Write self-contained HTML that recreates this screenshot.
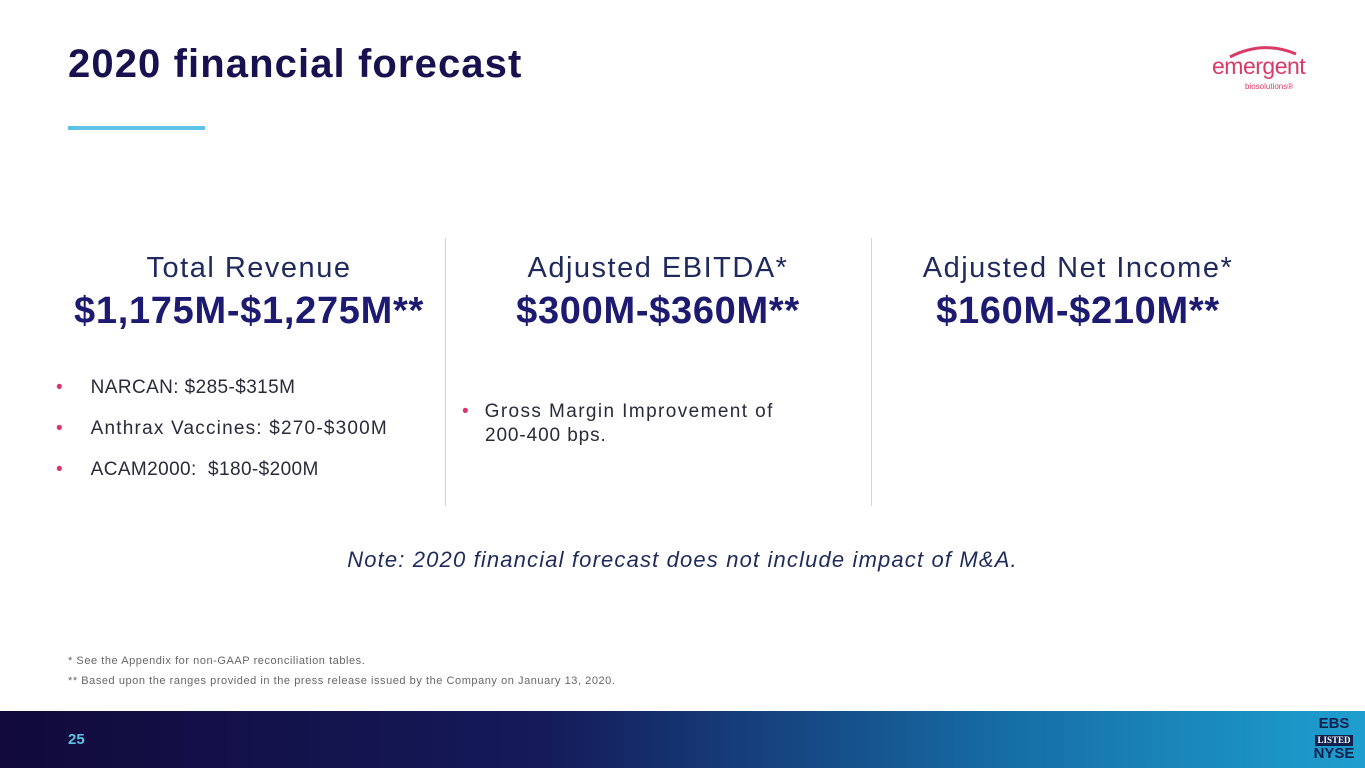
<!DOCTYPE html>
<html><head><meta charset="utf-8"><style>
body{margin:0;width:1365px;height:768px;position:relative;background:#fff;font-family:"Liberation Sans",sans-serif;overflow:hidden}
.a{position:absolute;white-space:nowrap}
.t{left:68px;top:42px;font-size:40px;font-weight:bold;color:#17124f;letter-spacing:1.1px}
.ul{left:68px;top:126px;width:137px;height:4px;background:#5ec3e6}
.vl{position:absolute;top:238px;width:1px;height:268px;background:#d6d6d6}
.h{font-size:29px;color:#1f2a5c;text-align:center;width:420px;letter-spacing:1.5px}
.v{font-size:38px;font-weight:bold;color:#1d1a72;text-align:center;width:420px;letter-spacing:0.7px}
.b{font-size:19px;color:#2a2a3a;letter-spacing:0.4px}
.b span{color:#e0336b;margin-right:28px;letter-spacing:0}
.n{left:0;width:1365px;text-align:center;top:547px;font-size:22px;font-style:italic;color:#1f2a5c;letter-spacing:1.15px}
.f{font-size:11px;color:#666;letter-spacing:0.55px}
.bar{position:absolute;left:0;top:711px;width:1365px;height:57px;background:linear-gradient(90deg,#110a3b 0%,#151a5a 40%,#1670a8 75%,#1e9fcf 100%)}
</style></head><body>
<div class="a t">2020 financial forecast</div>
<div class="a ul"></div>
<div class="a" style="left:1212px;top:53px;font-size:23px;color:#d93a66;letter-spacing:-0.5px">emergent</div>
<svg class="a" style="left:1228px;top:44px" width="70" height="14"><path d="M2 13 Q35 -4 68 10" stroke="#d93a66" stroke-width="3" fill="none"/></svg>
<div class="a" style="left:1245px;top:82px;font-size:8px;color:#d93a66">biosolutions®</div>
<div class="vl" style="left:445px"></div>
<div class="vl" style="left:871px"></div>
<div class="a h" style="left:39px;top:252px">Total Revenue</div>
<div class="a h" style="left:448px;top:252px">Adjusted EBITDA*</div>
<div class="a h" style="left:868px;top:252px">Adjusted Net Income*</div>
<div class="a v" style="left:39px;top:290px">$1,175M-$1,275M**</div>
<div class="a v" style="left:448px;top:290px">$300M-$360M**</div>
<div class="a v" style="left:868px;top:290px">$160M-$210M**</div>
<div class="a b" style="left:56px;top:377px"><span>•</span>NARCAN: $285-$315M</div>
<div class="a b" style="left:56px;top:418px;letter-spacing:1.2px"><span>•</span>Anthrax Vaccines: $270-$300M</div>
<div class="a b" style="left:56px;top:459px"><span>•</span>ACAM2000:&nbsp; $180-$200M</div>
<div class="a b" style="left:462px;top:401px;letter-spacing:1.4px"><span style="margin-right:16px">•</span>Gross Margin Improvement of</div>
<div class="a b" style="left:485px;top:425px;letter-spacing:0.9px">200-400 bps.</div>
<div class="a n">Note: 2020 financial forecast does not include impact of M&amp;A.</div>
<div class="a f" style="left:68px;top:655px">* See the Appendix for non-GAAP reconciliation tables.</div>
<div class="a f" style="left:68px;top:675px">** Based upon the ranges provided in the press release issued by the Company on January 13, 2020.</div>
<div class="bar"></div>
<div class="a" style="left:68px;top:731px;font-size:15px;font-weight:bold;color:#5ec3e6">25</div>
<div class="a" style="left:1311px;top:716px;font-size:15px;font-weight:bold;color:#12204e;line-height:15px;text-align:center;width:46px">EBS<br><span style="display:inline-block;background:#12204e;color:#fff;font-size:9px;line-height:11px;padding:0 2px;font-family:'Liberation Serif',serif">LISTED</span><br>NYSE</div>
</body></html>
